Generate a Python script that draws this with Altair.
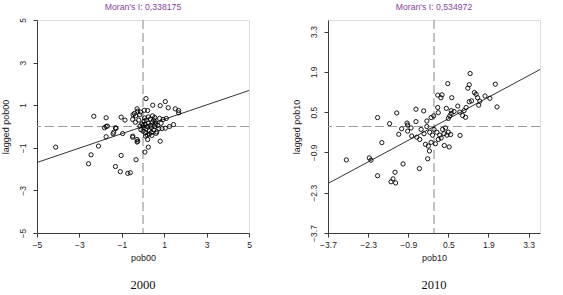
import altair as alt
import pandas as pd

# ---- data ----
x2000 = [0.14, 1.05, 0.46, 0.81, 1.19, -0.28, 0.06, 0.22, 1.52, 1.68, 1.68, -2.32, -1.74, -1.03, -0.85,
         -0.47, -0.35, -0.15, -0.12, 0.45, 0.55, 0.78, 0.95, 1.10, 1.25, 1.44, 0.90, 1.05, -1.74, -1.82,
         -1.30, -1.38, -0.96, -1.74, -2.10, -4.12, -0.48, -0.25, 0.22, 0.25, 0.81, -2.45, -2.57, -1.03,
         -1.30, -1.07, -0.72, -0.60, -0.33, 0.09, -1.68, -1.27, -1.41, -0.49, -0.36, -0.41, -0.25, -0.28,
         -0.28, -0.49,
         0.00, 0.05, 0.10, 0.15, 0.20, 0.25, 0.30, 0.35, 0.40, 0.45, 0.50, 0.55, 0.60, 0.65, 0.70, 0.75,
         0.10, 0.20, 0.30, 0.40, 0.05, 0.15, 0.35, -0.10, -0.05, -0.15, 0.00, 0.12, 0.50, 0.62, 0.85,
         0.25, -0.20, 0.08, 0.42, 0.58]
y2000 = [1.31, 1.17, 1.00, 0.98, 0.88, 0.83, 0.76, 0.75, 0.83, 0.75, 0.64, 0.48, 0.41, 0.44, 0.30,
         0.55, 0.50, 0.55, 0.68, 0.50, 0.42, 0.38, 0.33, 0.38, 0.00, 0.09, -0.10, -0.08, 0.00, -0.06,
         -0.06, -0.27, -0.33, -0.48, -0.92, -0.97, -0.45, -0.69, -0.61, -0.97, -0.69, -1.33, -1.75, -1.36,
         -1.88, -2.12, -2.20, -2.17, -1.56, -1.20, 0.02, -0.09, -0.34, 0.33, 0.20, 0.61, 0.72, -0.61,
         -0.73, -0.50,
         0.05, -0.05, 0.10, -0.10, 0.00, 0.15, -0.20, 0.05, -0.05, 0.20, -0.15, 0.00, 0.12, -0.25, 0.05, -0.10,
         -0.30, -0.40, -0.35, -0.28, 0.25, 0.30, 0.35, -0.15, 0.12, 0.02, -0.22, -0.45, 0.30, -0.32, 0.15,
         0.45, 0.30, 0.40, -0.42, 0.22]

x2010 = [1.26, 0.48, 1.23, 1.18, 2.14, 0.13, 0.28, 0.24, 0.62, 1.41, 1.47, 1.52, 1.60, 1.78, 1.95, 1.31,
         1.23, 1.56, 2.20, 0.83, 1.12, 0.13, 0.15, 0.43, 0.60, 0.55, 0.50, 1.00, 1.10, -0.63, -0.36, -1.30,
         -1.97, -1.55, -0.25, -0.10, -0.01, -0.63, -0.94, -0.92, -1.13, -0.92, -0.80, -1.23, -1.82, -0.78,
         -0.60, 0.36, 0.53, 0.91, 0.30, 0.40, 0.50, 0.45, 0.58, -3.06, -2.26, -2.20, -1.97, -1.08, -1.36,
         -1.43, -1.50, -1.34, -0.51, -0.22, -0.16, -0.30, -0.20, -0.10, 0.05, 0.10, 0.20, 0.15, -0.05,
         -0.15, -0.35, -0.45, -0.50, 0.25, 0.35, 0.00, -0.25, 0.60, 0.70, 0.90, 1.05]
y2010 = [1.84, 1.49, 1.45, 1.33, 1.47, 1.09, 1.10, 1.00, 1.00, 1.18, 1.12, 1.00, 0.88, 1.06, 0.98, 0.89,
         0.86, 0.74, 0.68, 0.71, 0.66, 0.66, 0.48, 0.63, 0.45, 0.37, 0.28, 0.38, 0.32, 0.60, 0.54, 0.47,
         0.31, 0.10, 0.19, 0.31, 0.37, 0.17, 0.12, 0.05, -0.08, -0.16, -0.05, -0.27, -0.56, -0.33,
         -0.37, -0.66, -0.71, -0.31, -0.10, -0.05, -0.20, -0.30, -0.28, -1.16, -1.09, -1.17, -1.71, -1.30, -1.59,
         -1.82, -1.92, -1.96, -1.46, -1.12, -0.85, -0.62, -0.68, -0.55, -0.60, -0.20, -0.30, -0.45, -0.30,
         -0.20, -0.25, -0.10, -0.45, -0.40, -0.25, -0.10, 0.00, 0.55, 0.52, 0.50, 0.55]

# regression line end points (slope = Moran's I)
line2000_x = [-5, 5]
line2000_y = [-1.69, 1.69]
line2010_x = [-3.7, 3.7]
line2010_y = [-1.98, 1.98]

ticks2000 = [-5, -3, -1, 1, 3, 5]
ticks2010 = [-3.7, -2.3, -0.9, 0.5, 1.9, 3.3]

W, H = 212, 213
SANS = "Liberation Sans"
AX = "#3a3a3a"


def panel(xs, ys, dom, ticks, fmt, xname, yname, lx, ly, moran, year):
    df = pd.DataFrame({"x": xs, "y": ys})
    xs_ = alt.Scale(domain=dom, nice=False, zero=False)
    ys_ = alt.Scale(domain=dom, nice=False, zero=False)
    common = dict(grid=False, values=ticks, format=fmt, domainColor=AX, tickColor=AX, tickSize=4,
                  labelFont=SANS, labelFontSize=8.5, labelColor="#222", titleFont=SANS,
                  titleFontSize=9, titleFontWeight="normal", titleColor="#222",
                  labelOverlap=False, labelFlush=False)
    xaxis = alt.Axis(title=xname, labelPadding=3, titlePadding=5, **common)
    yaxis = alt.Axis(title=yname, labelAngle=270, labelAlign="center", labelBaseline="bottom",
                     labelPadding=6, titlePadding=8, **common)
    X = alt.X("x:Q", scale=xs_, axis=xaxis)
    Y = alt.Y("y:Q", scale=ys_, axis=yaxis)
    pts = alt.Chart(df).mark_point(shape="circle", filled=False, size=18, color="black",
                                   strokeWidth=0.9, opacity=1).encode(x=X, y=Y)
    line = alt.Chart(pd.DataFrame({"x": lx, "y": ly})).mark_line(
        color="#333", strokeWidth=1).encode(x=X, y=Y)
    vr = alt.Chart(pd.DataFrame({"x": [0]})).mark_rule(
        color="#9a9a9a", strokeDash=[9, 4], strokeWidth=1.2).encode(x=X)
    hr = alt.Chart(pd.DataFrame({"y": [0]})).mark_rule(
        color="#9a9a9a", strokeDash=[9, 4], strokeWidth=1.2).encode(y=Y)
    mt = alt.Chart(pd.DataFrame({"t": ["Moran's I: " + moran]})).mark_text(
        font=SANS, fontSize=8.7, color="#8a3ea0", align="center", baseline="middle").encode(
        text="t:N", x=alt.value(W / 2), y=alt.value(-13))
    yt = alt.Chart(pd.DataFrame({"t": [year]})).mark_text(
        font="Liberation Serif", fontSize=12.5, color="#111", align="center", baseline="middle").encode(
        text="t:N", x=alt.value(W / 2), y=alt.value(52 + H))
    return alt.layer(vr, hr, line, pts, mt, yt).properties(width=W, height=H)


left = panel(x2000, y2000, [-5, 5], ticks2000, "d", "pob00", "lagged pob00",
             line2000_x, line2000_y, "0,338175", "2000")
right = panel(x2010, y2010, [-3.7, 3.7], ticks2010, ".1f", "pob10", "lagged pob10",
              line2010_x, line2010_y, "0,534972", "2010")

chart = alt.hconcat(left, right, spacing=39).properties(
    padding={"left": 0, "top": 2, "right": 0, "bottom": 0}
).configure_view(stroke=None).configure(background="white")

chart.save("out.html", embed_options={"renderer": "svg", "actions": False})
